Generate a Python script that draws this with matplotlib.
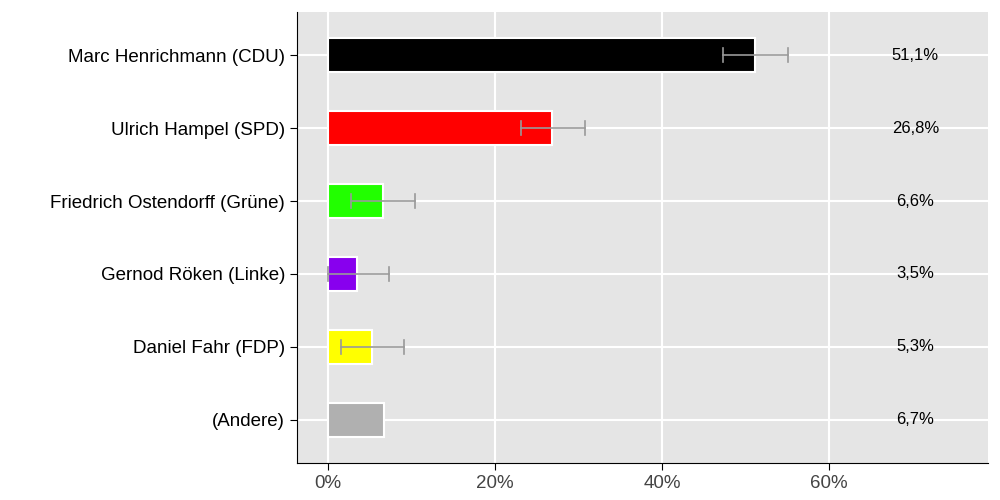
import numpy as np
import matplotlib.pyplot as plt

plt.rcParams['font.family'] = ['Liberation Sans', 'DejaVu Sans']

candidates = ['Marc Henrichmann (CDU)', 'Ulrich Hampel (SPD)', 'Friedrich Ostendorff (Grüne)',
              'Gernod Röken (Linke)', 'Daniel Fahr (FDP)', '(Andere)']
values = [51.1, 26.8, 6.6, 3.5, 5.3, 6.7]
err_low = [47.3, 23.1, 2.8, 0.0, 1.6, None]
err_high = [55.1, 30.8, 10.4, 7.3, 9.1, None]
colors = ['#000000', '#ff0000', '#22ff00', '#8800ee', '#ffff00', '#b0b0b0']
value_labels = ['51,1%', '26,8%', '6,6%', '3,5%', '5,3%', '6,7%']

fig = plt.figure(figsize=(10, 5), dpi=100)
ax = fig.add_axes([0.297, 0.074, 0.691, 0.902])
ax.set_facecolor('#e5e5e5')

y = np.arange(len(candidates))
ax.barh(y, values, height=0.47, color=colors, edgecolor='white', linewidth=1.5, zorder=2)

for i in range(len(candidates)):
    if err_low[i] is not None:
        ax.plot([err_low[i], err_high[i]], [i, i], color='#999999', lw=1.2, zorder=3)
        for xe in (err_low[i], err_high[i]):
            ax.plot([xe, xe], [i - 0.09, i + 0.09], color='#999999', lw=1.2, zorder=3)
    ax.text(70.3, i, value_labels[i], ha='center', va='center', fontsize=12)

ax.set_xlim(-3.7, 79)
ax.set_ylim(5.59, -0.59)
ax.set_yticks(y)
ax.set_yticklabels(candidates, fontsize=13.5)
ax.set_xticks([0, 20, 40, 60])
ax.set_xticklabels(['0%', '20%', '40%', '60%'], fontsize=13.5, color='#444444')
ax.grid(True, color='white', linewidth=1.5, zorder=0)
ax.set_axisbelow(True)
for s in ['top', 'right']:
    ax.spines[s].set_visible(False)
ax.tick_params(axis='both', length=5)

fig.savefig('out.png')
